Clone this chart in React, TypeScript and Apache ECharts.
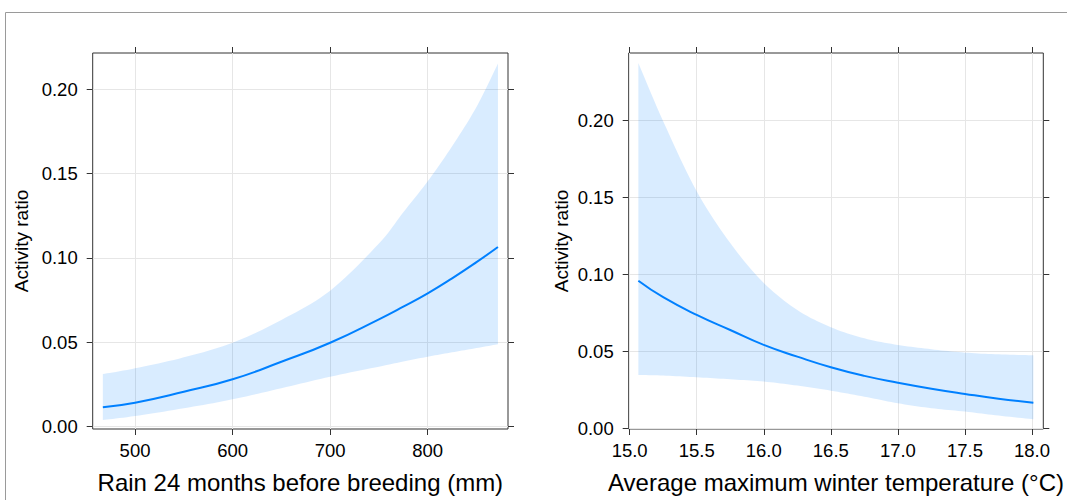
import React, { useEffect, useRef } from "react";
import * as echarts from "echarts";

// ---- Data ----
const rainX = [467, 500, 550, 600, 650, 700, 750, 775, 800, 825, 850, 872];
const rainFit = [0.0113, 0.014, 0.0205, 0.0279, 0.0383, 0.0496, 0.0635, 0.071, 0.0789, 0.0878, 0.0974, 0.1064];
const rainUpper = [0.031, 0.0344, 0.0409, 0.0496, 0.0631, 0.0805, 0.1085, 0.127, 0.1454, 0.1662, 0.1895, 0.2152];
const rainLower = [0.0037, 0.0061, 0.0107, 0.016, 0.0226, 0.0294, 0.0354, 0.0384, 0.0413, 0.0439, 0.0464, 0.0487];

const tempX = [15.065, 15.25, 15.5, 15.75, 16.0, 16.25, 16.5, 16.75, 17.0, 17.25, 17.5, 17.75, 18.01];
const tempFit = [0.0958, 0.0851, 0.0736, 0.0638, 0.0541, 0.0465, 0.0396, 0.034, 0.0296, 0.0257, 0.0223, 0.0192, 0.0166];
const tempUpper = [0.2372, 0.1994, 0.1539, 0.1203, 0.0944, 0.0768, 0.0656, 0.0584, 0.0541, 0.0513, 0.0491, 0.048, 0.0474];
const tempLower = [0.0346, 0.0342, 0.0331, 0.0318, 0.0303, 0.0277, 0.0244, 0.0205, 0.0162, 0.013, 0.0108, 0.0082, 0.0058];

const rainTicks = [500, 600, 700, 800];
const tempTicks = [15.0, 15.5, 16.0, 16.5, 17.0, 17.5, 18.0];
const yTicks = [0.0, 0.05, 0.1, 0.15, 0.2];

const rainTitle = "Rain 24 months before breeding (mm)";
const tempTitle = "Average maximum winter temperature (°C)";
const yTitle = "Activity ratio";

const FONT = "'Liberation Sans', Arial, sans-serif";
const LINE = "#0080ff";
const BOX = "#333333";
const GRIDC = "#e6e6e6";

function pairs(xs: number[], ys: number[]) {
  return xs.map((x, i) => [x, ys[i]]);
}

// Catmull-Rom smoothing of already-projected pixel points (rendering only)
function smoothPx(pts: number[][]) {
  const out: number[][] = [];
  const n = pts.length;
  for (let i = 0; i < n - 1; i++) {
    const p0 = pts[Math.max(i - 1, 0)];
    const p1 = pts[i];
    const p2 = pts[i + 1];
    const p3 = pts[Math.min(i + 2, n - 1)];
    for (let s = 0; s < 10; s++) {
      const t = s / 10;
      const t2 = t * t;
      const t3 = t2 * t;
      const f = (a: number, b: number, c: number, d: number) =>
        0.5 * (2 * b + (-a + c) * t + (2 * a - 5 * b + 4 * c - d) * t2 + (-a + 3 * b - 3 * c + d) * t3);
      out.push([f(p0[0], p1[0], p2[0], p3[0]), f(p0[1], p1[1], p2[1], p3[1])]);
    }
  }
  out.push(pts[n - 1]);
  return out;
}

export default function App() {
  const ref = useRef<HTMLDivElement>(null);
  useEffect(() => {
    if (!ref.current) return;
    const chart = echarts.init(ref.current, undefined, { renderer: "svg" });

    const mkX = (idx: number, min: number, max: number, ticks: number[], fmt: (v: number) => string, name: string) => [
      {
        type: "value",
        gridIndex: idx,
        position: "bottom",
        min,
        max,
        name,
        nameLocation: "middle",
        nameGap: 41,
        nameTextStyle: { fontSize: 24, color: "#000", fontFamily: FONT },
        axisLine: { show: false, onZero: false },
        axisTick: { show: true, inside: false, length: 6, customValues: ticks, lineStyle: { color: BOX } },
        axisLabel: { show: true, customValues: ticks, formatter: fmt, fontSize: 18.5, color: "#000", fontFamily: FONT, margin: 12 },
        splitLine: { show: true, customValues: ticks, lineStyle: { color: GRIDC, width: 1 } },
      },
      {
        type: "value",
        gridIndex: idx,
        position: "top",
        min,
        max,
        axisLine: { show: false, onZero: false },
        axisTick: { show: true, inside: false, length: 6, customValues: ticks, lineStyle: { color: BOX } },
        axisLabel: { show: false },
        splitLine: { show: false },
      },
    ];

    const mkY = (idx: number, min: number, max: number, gap: number) => [
      {
        type: "value",
        gridIndex: idx,
        position: "left",
        min,
        max,
        name: yTitle,
        nameLocation: "middle",
        nameGap: gap,
        nameTextStyle: { fontSize: 19, color: "#000", fontFamily: FONT },
        axisLine: { show: false, onZero: false },
        axisTick: { show: true, inside: false, length: 6, customValues: yTicks, lineStyle: { color: BOX } },
        axisLabel: {
          show: true,
          customValues: yTicks,
          formatter: (v: number) => v.toFixed(2),
          fontSize: 18.5,
          color: "#000",
          fontFamily: FONT,
          margin: 15,
        },
        splitLine: { show: true, customValues: yTicks, lineStyle: { color: GRIDC, width: 1 } },
      },
      {
        type: "value",
        gridIndex: idx,
        position: "right",
        min,
        max,
        axisLine: { show: false, onZero: false },
        axisTick: { show: true, inside: false, length: 6, customValues: yTicks, lineStyle: { color: BOX } },
        axisLabel: { show: false },
        splitLine: { show: false },
      },
    ];

    const bandSeries = (xi: number, yi: number, xs: number[], lo: number[], up: number[], fit: number[]) => [
      {
        type: "custom",
        xAxisIndex: xi,
        yAxisIndex: yi,
        data: xs.map((x, i) => [x, lo[i], up[i]]),
        encode: { x: 0, y: [1, 2] },
        clip: true,
        silent: true,
        z: 2,
        renderItem: (params: any, api: any) => {
          if (params.dataIndex !== 0) return null;
          const upPx = xs.map((x, i) => api.coord([x, up[i]]));
          const loPx = xs.map((x, i) => api.coord([x, lo[i]]));
          const top = smoothPx(upPx);
          const bottom = smoothPx(loPx).reverse();
          return {
            type: "polygon",
            shape: { points: top.concat(bottom) },
            style: { fill: LINE, opacity: 0.15 },
          };
        },
      },
      {
        type: "line",
        xAxisIndex: xi,
        yAxisIndex: yi,
        data: pairs(xs, fit),
        symbol: "none",
        smooth: true,
        lineStyle: { color: LINE, width: 2 },
        z: 3,
        silent: true,
      },
    ];

    chart.setOption({
      animation: false,
      textStyle: { fontFamily: FONT },
      grid: [
        { left: 92.7, top: 53, width: 415.3, height: 376, show: true, borderColor: BOX, borderWidth: 1, backgroundColor: "transparent", containLabel: false },
        { left: 628.7, top: 53, width: 414.6, height: 376, show: true, borderColor: BOX, borderWidth: 1, backgroundColor: "transparent", containLabel: false },
      ],
      xAxis: [
        ...mkX(0, 456.6, 882.3, rainTicks, (v: number) => String(Math.round(v)), rainTitle),
        ...mkX(1, 14.993, 18.084, tempTicks, (v: number) => v.toFixed(1), tempTitle),
      ],
      yAxis: [...mkY(0, -0.0016, 0.2215, 61.5), ...mkY(1, -0.0005, 0.2437, 57.5)],
      series: [
        ...bandSeries(0, 0, rainX, rainLower, rainUpper, rainFit),
        ...bandSeries(2, 2, tempX, tempLower, tempUpper, tempFit),
      ],
      graphic: [
        {
          type: "rect",
          shape: { x: 5.5, y: 12.5, width: 1200, height: 600 },
          style: { fill: "none", stroke: "#9a9a9a", lineWidth: 1 },
          silent: true,
          z: -1,
        },
      ],
    });
    return () => chart.dispose();
  }, []);
  return (
    <div
      ref={ref}
      style={{ position: "absolute", left: 0, top: 0, width: 1067, height: 500, background: "#fff" }}
    />
  );
}
